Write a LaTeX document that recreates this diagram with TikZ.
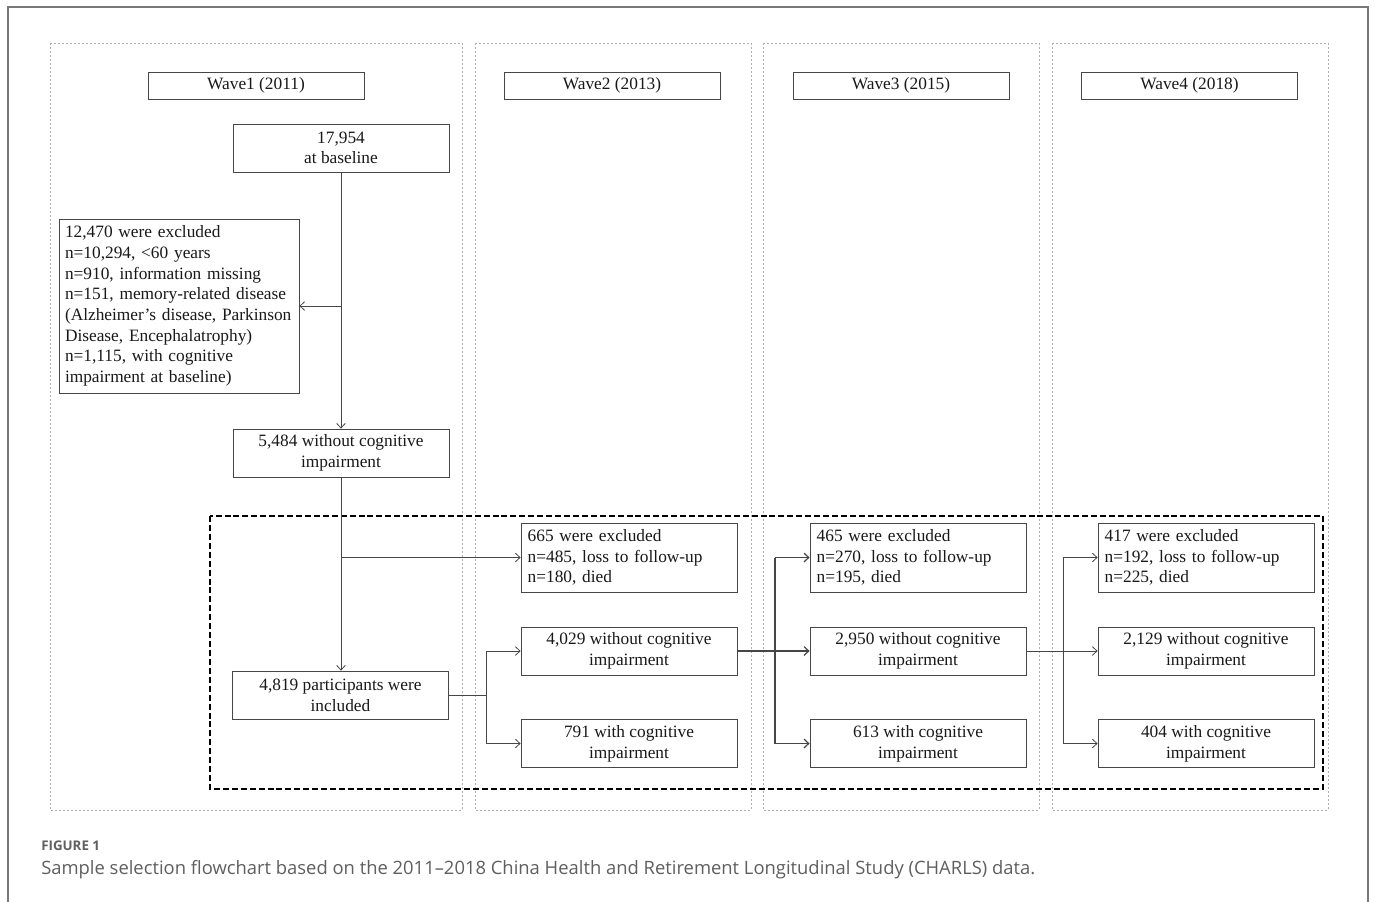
\documentclass[tikz,border=0pt]{standalone}
\usepackage{fontspec}
\setmainfont{Liberation Serif}
\newfontfamily\capfont{Open Sans}
\usetikzlibrary{arrows.meta}
\definecolor{boxline}{RGB}{70,70,70}
\definecolor{colline}{RGB}{175,175,175}
\definecolor{framecol}{RGB}{120,120,120}
\definecolor{capgray}{RGB}{95,95,95}
\tikzset{
  box/.style={draw=boxline, line width=0.6pt, inner sep=0pt, minimum width=162pt, minimum height=36pt, align=center, font=\fontsize{13}{15.5}\selectfont, text=black!90},
  wavebox/.style={box, minimum height=20.25pt},
  exbox/.style={box, minimum height=51.75pt, align=left, text width=152pt},
  conn/.style={draw=boxline, line width=0.6pt},
  arr/.style={conn, -{Straight Barb[length=3.5pt,width=6.5pt]}},
  colbox/.style={draw=colline, line width=0.5pt, dash pattern=on 1.5pt off 1.5pt},
  bigdash/.style={draw=black, line width=1.5pt, dash pattern=on 4.5pt off 2.2pt}
}
\begin{document}
\begin{tikzpicture}[x=0.75pt,y=-0.75pt]
\useasboundingbox (0,0) rectangle (1375,901);
\fill[white] (0,0) rectangle (1375,901);
% outer frame
\draw[framecol, line width=0.8pt] (8,905) -- (8,7) -- (1368,7) -- (1368,905);
% wave columns
\draw[colbox] (50,43) rectangle (462,810);
\draw[colbox] (475,43) rectangle (751,810);
\draw[colbox] (763,43) rectangle (1039,810);
\draw[colbox] (1052,43) rectangle (1328,810);
% big dashed rectangle
\draw[bigdash] (210,516) rectangle (1323,789);
% wave headers
\node[wavebox] (w1) at (256,85.5) {Wave1 (2011)};
\node[wavebox] (w2) at (612,85.5) {Wave2 (2013)};
\node[wavebox] (w3) at (901,85.5) {Wave3 (2015)};
\node[wavebox] (w4) at (1189.5,85.5) {Wave4 (2018)};
% wave 1
\node[box] (base) at (341,148) {17,954\\at baseline};
\node[box, minimum width=180pt, minimum height=130.5pt, text width=171pt, align=left] (excl) at (179,306) {12,470 were excluded\\n=10,294, <60 years\\n=910, information missing\\n=151, memory-related disease\\(Alzheimer’s disease, Parkinson\\Disease, Encephalatrophy)\\n=1,115, with cognitive\\impairment at baseline)};
\node[box] (n5484) at (341,453) {5,484 without cognitive\\impairment};
\node[box] (n4819) at (340.5,695) {4,819 participants were\\included};
% wave 2
\node[exbox] (ex2) at (629,557.5) {665 were excluded\\n=485, loss to follow-up\\n=180, died};
\node[box] (c2) at (629,651) {4,029 without cognitive\\impairment};
\node[box] (i2) at (629,743.5) {791 with cognitive\\impairment};
% wave 3
\node[exbox] (ex3) at (918,557.5) {465 were excluded\\n=270, loss to follow-up\\n=195, died};
\node[box] (c3) at (918,651) {2,950 without cognitive\\impairment};
\node[box] (i3) at (918,743.5) {613 with cognitive\\impairment};
% wave 4
\node[exbox] (ex4) at (1206,557.5) {417 were excluded\\n=192, loss to follow-up\\n=225, died};
\node[box] (c4) at (1206,651) {2,129 without cognitive\\impairment};
\node[box] (i4) at (1206,743.5) {404 with cognitive\\impairment};
% connectors wave 1
\draw[arr] (base.south) -- (n5484.north);
\draw[arr] (base.south |- excl.east) -- (excl.east);
\draw[arr] (n5484.south) -- (n5484.south |- n4819.north);
\draw[arr] (n5484.south |- ex2.west) -- (ex2.west);
% fork 1
\coordinate (f1) at (486,0);
\draw[conn] (n4819.east) -- (f1 |- n4819.east);
\draw[conn] (f1 |- c2.west) -- (f1 |- i2.west);
\draw[arr] (f1 |- c2.west) -- (c2.west);
\draw[arr] (f1 |- i2.west) -- (i2.west);
% fork 2
\coordinate (f2) at (775,0);
\draw[arr, line width=0.9pt] (c2.east) -- (c3.west);
\draw[conn, line width=0.9pt] (f2 |- ex3.west) -- (f2 |- i3.west);
\draw[arr, line width=0.9pt] (f2 |- ex3.west) -- (ex3.west);
\draw[arr, line width=0.9pt] (f2 |- i3.west) -- (i3.west);
% fork 3
\coordinate (f3) at (1063,0);
\draw[arr] (c3.east) -- (c4.west);
\draw[conn] (f3 |- ex4.west) -- (f3 |- i4.west);
\draw[arr] (f3 |- ex4.west) -- (ex4.west);
\draw[arr] (f3 |- i4.west) -- (i4.west);
% caption
\node[anchor=base west, inner sep=0pt, text=capgray, font=\capfont\bfseries\fontsize{10}{12}\selectfont] (figlabel) at (41,850) {FIGURE 1};
\node[anchor=base west, inner sep=0pt, text=capgray, font=\capfont\fontsize{13.8}{16}\selectfont] (caption) at (41,874) {Sample selection flowchart based on the 2011–2018 China Health and Retirement Longitudinal Study (CHARLS) data.};
\end{tikzpicture}
\end{document}
